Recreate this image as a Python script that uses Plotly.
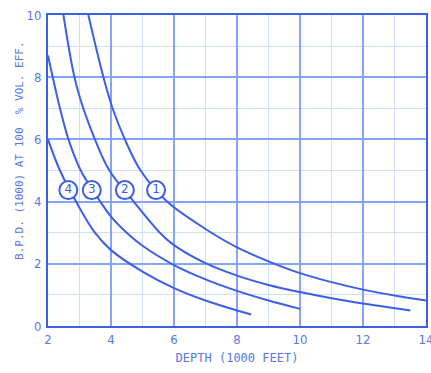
import plotly.graph_objects as go

# Curve data (depth in 1000 ft, B.P.D. in 1000)
c1_x = [3.28, 3.76, 4.05, 4.44, 4.94, 5.78, 7.0, 8.0, 9.0, 10.0, 11.0, 12.0, 13.0, 14.0]
c1_y = [10.0, 8.0, 7.0, 6.0, 5.0, 4.0, 3.12, 2.53, 2.08, 1.70, 1.41, 1.17, 0.98, 0.82]

c2_x = [2.49, 2.84, 3.12, 3.49, 3.95, 4.72, 5.55, 6.0, 7.0, 8.0, 9.0, 10.0, 11.0, 12.0, 13.5]
c2_y = [10.0, 8.0, 7.0, 6.0, 5.0, 4.0, 3.0, 2.60, 2.02, 1.62, 1.32, 1.09, 0.89, 0.72, 0.50]

c3_x = [2.0, 2.15, 2.38, 2.65, 3.04, 3.66, 4.0, 4.5, 5.0, 6.0, 7.0, 8.0, 9.0, 10.0]
c3_y = [8.7, 8.0, 7.0, 6.0, 5.0, 4.0, 3.52, 3.0, 2.58, 1.96, 1.50, 1.13, 0.82, 0.55]

c4_x = [2.0, 2.38, 2.89, 3.49, 4.0, 5.0, 6.0, 7.0, 8.0, 8.45]
c4_y = [6.0, 5.0, 4.0, 3.0, 2.44, 1.75, 1.22, 0.82, 0.50, 0.37]

label_text = ["4", "3", "2", "1"]
label_x = [2.645, 3.39, 4.44, 5.43]
label_y = [4.37, 4.37, 4.37, 4.37]

x_ticks = [2, 4, 6, 8, 10, 12, 14]
y_ticks = [0, 2, 4, 6, 8, 10]

BLUE = "#3c5fe6"
TXT = "#5578eb"
MAJOR = "#86a4f7"
MINOR = "#d2ddfa"

fig = go.Figure()
for xs, ys in [(c1_x, c1_y), (c2_x, c2_y), (c3_x, c3_y), (c4_x, c4_y)]:
    fig.add_trace(go.Scatter(x=xs, y=ys, mode="lines",
                             line=dict(color=BLUE, width=2, shape="spline", smoothing=1.0),
                             hoverinfo="skip", showlegend=False))

fig.add_trace(go.Scatter(
    x=label_x, y=label_y, mode="markers+text", text=label_text,
    textposition="middle center",
    textfont=dict(family="DejaVu Sans", size=12, color=BLUE),
    marker=dict(symbol="circle", size=18, color="white",
                line=dict(color=BLUE, width=2)),
    cliponaxis=False, showlegend=False, hoverinfo="skip"))

tick_font = dict(family="Liberation Sans Narrow, DejaVu Sans Condensed, sans-serif",
                 size=13, color=TXT)

fig.update_layout(
    width=431, height=373,
    margin=dict(l=48, r=5, t=15, b=47),
    paper_bgcolor="white", plot_bgcolor="white",
    showlegend=False,
    xaxis=dict(range=[2, 14], tickvals=x_ticks, ticktext=[str(v) for v in x_ticks],
               showline=True, mirror=True, linecolor=BLUE, linewidth=2,
               showgrid=True, gridcolor=MAJOR, gridwidth=1.6,
               minor=dict(dtick=1, showgrid=True, gridcolor=MINOR, gridwidth=1),
               zeroline=False, ticks="", automargin=False, ticklabeloverflow="allow",
               tickfont=tick_font,
               title=dict(text="DEPTH (1000 FEET)", standoff=8,
                          font=dict(family="DejaVu Sans Mono", size=12, color=TXT))),
    yaxis=dict(range=[0, 10], tickvals=y_ticks, ticktext=[str(v) for v in y_ticks],
               showline=True, mirror=True, linecolor=BLUE, linewidth=2,
               showgrid=True, gridcolor=MAJOR, gridwidth=1.6,
               minor=dict(dtick=1, showgrid=True, gridcolor=MINOR, gridwidth=1),
               zeroline=False, ticks="", automargin=False, ticklabelstandoff=2,
               tickfont=tick_font),
    annotations=[dict(text="B.P.D. (1000) AT 100  % VOL. EFF.", textangle=-90,
                      xref="paper", yref="paper", x=-0.074, y=0.563,
                      xanchor="center", yanchor="middle", showarrow=False,
                      font=dict(family="DejaVu Sans Mono", size=11, color=TXT))],
)

fig.write_html("out.html", config={"displayModeBar": False},
               post_script="document.body.style.margin='0px';")
